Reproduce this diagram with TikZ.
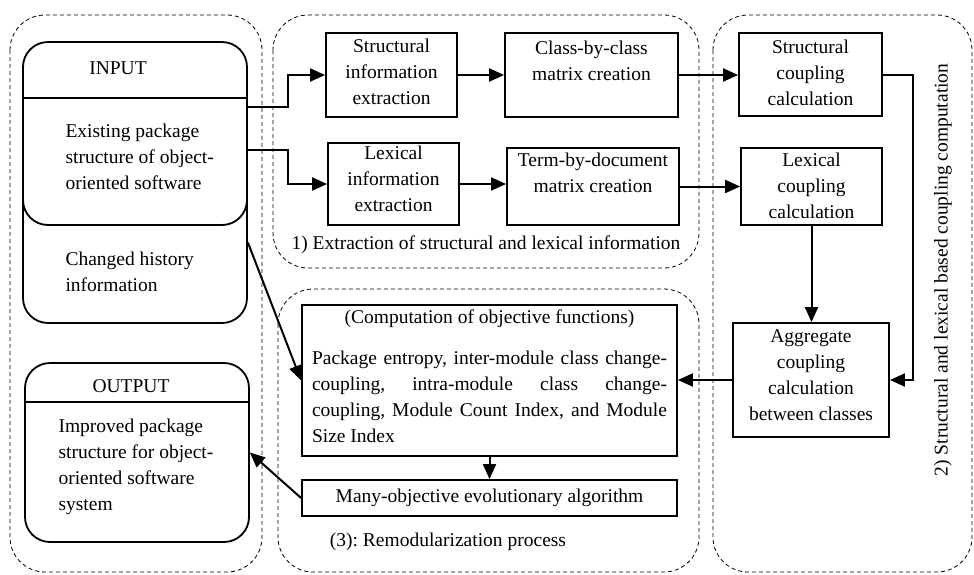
\documentclass[tikz,border=0pt]{standalone}
\usepackage{fontspec}
\setmainfont{Liberation Serif}
\usetikzlibrary{arrows.meta}
\frenchspacing
\newcommand\bx[4][1pt]{\parbox[c][#3][t]{#2}{\centering\vspace*{#1}\strut #4\strut}}
\begin{document}
\begin{tikzpicture}[x=1pt,y=-1pt,font=\fontsize{19.5}{26}\selectfont,
  grp/.style={draw, dash pattern=on 4pt off 3pt, line width=0.8pt, rounded corners=35pt},
  blk/.style={draw, line width=1.8pt, inner sep=0pt, fill=white},
  rbox/.style={draw, line width=1.8pt, rounded corners=25pt, minimum width=224pt, inner sep=0pt, fill=white},
  arr/.style={line width=2pt, -{Triangle[length=15pt,width=13pt]}},
  divl/.style={line width=1.5pt}]
\useasboundingbox (0,0) rectangle (974,574);
% group frames
\draw[grp] (10,15) rectangle (262,572);
\draw[grp] (273,15) rectangle (699,268);
\draw[grp] (278,289) rectangle (699,572);
\draw[grp] (713,15) rectangle (972,572);
% left column
\node[rbox, minimum height=173pt] (hist) at (135,236.5) {};
\node[anchor=west, align=left] (histtxt) at (62,272) {Changed history\\information};
\node[rbox, minimum height=183pt] (inp) at (135,133.5) {};
\draw[divl] ([yshift=-57pt]inp.north west) -- ([yshift=-57pt]inp.north east);
\node (inplab) at (118,68) {INPUT};
\node[anchor=west, align=left] (inptxt) at (62,157) {Existing package\\structure of object-\\oriented software};
\node[rbox, minimum height=179pt] (outb) at (137,452.5) {};
\draw[divl] ([yshift=-40pt]outb.north west) -- ([yshift=-40pt]outb.north east);
\node (outlab) at (131,386) {OUTPUT};
\node[anchor=west, align=left] (outtxt) at (55,467) {Improved package\\structure for object-\\oriented software\\system};
% extraction blocks
\node[blk] (si) at (391.5,75) {\bx{131pt}{84pt}{Structural\\information\\extraction}};
\node[blk] (cc) at (591.5,75) {\bx[3pt]{173pt}{84pt}{Class-by-class\\matrix creation}};
\node[blk] (li) at (393.5,184) {\bx[-2pt]{131pt}{82pt}{Lexical\\information\\extraction}};
\node[blk] (td) at (593,186.5) {\bx[0pt]{172pt}{77pt}{Term-by-document\\matrix creation}};
% coupling blocks
\node[blk] (sc) at (810.5,74.5) {\bx[2pt]{143pt}{83pt}{Structural\\coupling\\calculation}};
\node[blk] (lc) at (811.5,186.5) {\bx[0pt]{141pt}{77pt}{Lexical\\coupling\\calculation}};
\node[blk] (agg) at (811,380) {\bx{156pt}{114pt}{Aggregate\\coupling\\calculation\\between classes}};
% remodularization blocks
\node[blk, inner xsep=10pt] (comp) at (489.5,380.5) {\parbox[c][151pt][t]{355pt}{\emergencystretch=20pt{\centering\strut(Computation of objective functions)\par}\vspace{15pt}\strut Package entropy, inter-module class change-\linebreak coupling, intra-module class change-\linebreak coupling, Module Count Index, and Module\linebreak Size Index\strut\par}};
\node[blk, minimum width=375pt, minimum height=36pt] (many) at (489.5,498) {Many-objective evolutionary algorithm};
% labels
\node (lab1) at (486,245) {1) Extraction of structural and lexical information};
\node (lab3) at (448,542) {(3): Remodularization process};
\node[rotate=90] (lab2) at (943,270) {2) Structural and lexical based coupling computation};
% connectors
\draw[arr] ([yshift=26.5pt]inp.east) -- ++(40,0) |- (si.west);
\draw[arr] ([yshift=-16.5pt]inp.east) -- ++(40,0) |- (li.west);
\draw[arr] (si.east) -- (cc.west);
\draw[arr] (li.east) -- (li.east -| td.west);
\draw[arr] (cc.east) -- (cc.east -| sc.west);
\draw[arr] (td.east) -- (lc.west);
\draw[arr] (lc.south) -- (lc.south |- agg.north);
\draw[arr] (sc.east) -- ++(30,0) |- (agg.east);
\draw[arr] (agg.west) -- (agg.west -| comp.east);
\draw[arr] (comp.south) -- (many.north);
\draw[arr] ([yshift=-6pt]hist.east) -- (comp.west);
\draw[arr] (many.west) -- (outb.east);
\end{tikzpicture}
\end{document}
